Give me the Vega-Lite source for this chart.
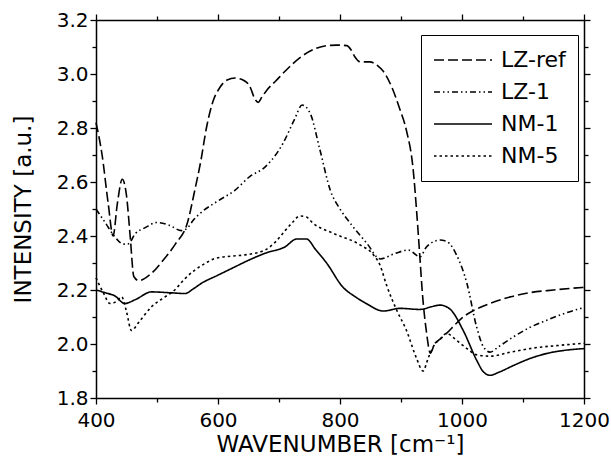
{
  "$schema": "https://vega.github.io/schema/vega-lite/v6.json",
  "autosize": "none",
  "width": 488,
  "height": 378,
  "padding": {"left": 96, "top": 20, "right": 27, "bottom": 59},
  "background": "white",
  "datasets": {
    "spectra": [
      {"s": "LZ-ref", "w": 400, "v": 2.82},
      {"s": "LZ-ref", "w": 410, "v": 2.70},
      {"s": "LZ-ref", "w": 420, "v": 2.52},
      {"s": "LZ-ref", "w": 428, "v": 2.40},
      {"s": "LZ-ref", "w": 435, "v": 2.52},
      {"s": "LZ-ref", "w": 443, "v": 2.61},
      {"s": "LZ-ref", "w": 450, "v": 2.55},
      {"s": "LZ-ref", "w": 456, "v": 2.40},
      {"s": "LZ-ref", "w": 462, "v": 2.25},
      {"s": "LZ-ref", "w": 470, "v": 2.235},
      {"s": "LZ-ref", "w": 490, "v": 2.26},
      {"s": "LZ-ref", "w": 510, "v": 2.31},
      {"s": "LZ-ref", "w": 530, "v": 2.37},
      {"s": "LZ-ref", "w": 550, "v": 2.45},
      {"s": "LZ-ref", "w": 562, "v": 2.57},
      {"s": "LZ-ref", "w": 572, "v": 2.68},
      {"s": "LZ-ref", "w": 581, "v": 2.80},
      {"s": "LZ-ref", "w": 592, "v": 2.90},
      {"s": "LZ-ref", "w": 603, "v": 2.95},
      {"s": "LZ-ref", "w": 615, "v": 2.978},
      {"s": "LZ-ref", "w": 628, "v": 2.985},
      {"s": "LZ-ref", "w": 641, "v": 2.978},
      {"s": "LZ-ref", "w": 652, "v": 2.955},
      {"s": "LZ-ref", "w": 661, "v": 2.905},
      {"s": "LZ-ref", "w": 666, "v": 2.895},
      {"s": "LZ-ref", "w": 672, "v": 2.915},
      {"s": "LZ-ref", "w": 680, "v": 2.94},
      {"s": "LZ-ref", "w": 695, "v": 2.975},
      {"s": "LZ-ref", "w": 712, "v": 3.015},
      {"s": "LZ-ref", "w": 734, "v": 3.06},
      {"s": "LZ-ref", "w": 761, "v": 3.095},
      {"s": "LZ-ref", "w": 778, "v": 3.105},
      {"s": "LZ-ref", "w": 795, "v": 3.107},
      {"s": "LZ-ref", "w": 811, "v": 3.105},
      {"s": "LZ-ref", "w": 818, "v": 3.09},
      {"s": "LZ-ref", "w": 824, "v": 3.065},
      {"s": "LZ-ref", "w": 833, "v": 3.045},
      {"s": "LZ-ref", "w": 849, "v": 3.045},
      {"s": "LZ-ref", "w": 862, "v": 3.03},
      {"s": "LZ-ref", "w": 871, "v": 3.01},
      {"s": "LZ-ref", "w": 887, "v": 2.94},
      {"s": "LZ-ref", "w": 898, "v": 2.87},
      {"s": "LZ-ref", "w": 909, "v": 2.79},
      {"s": "LZ-ref", "w": 920, "v": 2.645},
      {"s": "LZ-ref", "w": 926, "v": 2.48},
      {"s": "LZ-ref", "w": 931, "v": 2.32},
      {"s": "LZ-ref", "w": 935, "v": 2.19},
      {"s": "LZ-ref", "w": 942, "v": 2.04},
      {"s": "LZ-ref", "w": 948, "v": 1.966},
      {"s": "LZ-ref", "w": 955, "v": 2.00},
      {"s": "LZ-ref", "w": 965, "v": 2.02},
      {"s": "LZ-ref", "w": 975, "v": 2.04},
      {"s": "LZ-ref", "w": 990, "v": 2.075},
      {"s": "LZ-ref", "w": 1002, "v": 2.10},
      {"s": "LZ-ref", "w": 1020, "v": 2.125},
      {"s": "LZ-ref", "w": 1046, "v": 2.15},
      {"s": "LZ-ref", "w": 1080, "v": 2.175},
      {"s": "LZ-ref", "w": 1111, "v": 2.19},
      {"s": "LZ-ref", "w": 1150, "v": 2.20},
      {"s": "LZ-ref", "w": 1200, "v": 2.21},

      {"s": "LZ-1", "w": 400, "v": 2.50},
      {"s": "LZ-1", "w": 415, "v": 2.45},
      {"s": "LZ-1", "w": 430, "v": 2.40},
      {"s": "LZ-1", "w": 445, "v": 2.37},
      {"s": "LZ-1", "w": 452, "v": 2.37},
      {"s": "LZ-1", "w": 465, "v": 2.41},
      {"s": "LZ-1", "w": 480, "v": 2.43},
      {"s": "LZ-1", "w": 500, "v": 2.45},
      {"s": "LZ-1", "w": 520, "v": 2.44},
      {"s": "LZ-1", "w": 540, "v": 2.42},
      {"s": "LZ-1", "w": 550, "v": 2.43},
      {"s": "LZ-1", "w": 560, "v": 2.46},
      {"s": "LZ-1", "w": 574, "v": 2.49},
      {"s": "LZ-1", "w": 600, "v": 2.53},
      {"s": "LZ-1", "w": 628, "v": 2.57},
      {"s": "LZ-1", "w": 652, "v": 2.62},
      {"s": "LZ-1", "w": 677, "v": 2.655},
      {"s": "LZ-1", "w": 707, "v": 2.745},
      {"s": "LZ-1", "w": 725, "v": 2.83},
      {"s": "LZ-1", "w": 738, "v": 2.885},
      {"s": "LZ-1", "w": 751, "v": 2.855},
      {"s": "LZ-1", "w": 767, "v": 2.72},
      {"s": "LZ-1", "w": 784, "v": 2.57},
      {"s": "LZ-1", "w": 800, "v": 2.50},
      {"s": "LZ-1", "w": 816, "v": 2.45},
      {"s": "LZ-1", "w": 844, "v": 2.373},
      {"s": "LZ-1", "w": 866, "v": 2.315},
      {"s": "LZ-1", "w": 890, "v": 2.335},
      {"s": "LZ-1", "w": 912, "v": 2.348},
      {"s": "LZ-1", "w": 931, "v": 2.323},
      {"s": "LZ-1", "w": 942, "v": 2.36},
      {"s": "LZ-1", "w": 964, "v": 2.385},
      {"s": "LZ-1", "w": 975, "v": 2.38},
      {"s": "LZ-1", "w": 991, "v": 2.33},
      {"s": "LZ-1", "w": 1008, "v": 2.225},
      {"s": "LZ-1", "w": 1024, "v": 2.063},
      {"s": "LZ-1", "w": 1035, "v": 1.99},
      {"s": "LZ-1", "w": 1046, "v": 1.97},
      {"s": "LZ-1", "w": 1060, "v": 1.99},
      {"s": "LZ-1", "w": 1084, "v": 2.026},
      {"s": "LZ-1", "w": 1110, "v": 2.06},
      {"s": "LZ-1", "w": 1139, "v": 2.088},
      {"s": "LZ-1", "w": 1170, "v": 2.115},
      {"s": "LZ-1", "w": 1200, "v": 2.135},

      {"s": "NM-1", "w": 400, "v": 2.20},
      {"s": "NM-1", "w": 415, "v": 2.19},
      {"s": "NM-1", "w": 431, "v": 2.178},
      {"s": "NM-1", "w": 447, "v": 2.15},
      {"s": "NM-1", "w": 465, "v": 2.165},
      {"s": "NM-1", "w": 491, "v": 2.193},
      {"s": "NM-1", "w": 520, "v": 2.19},
      {"s": "NM-1", "w": 546, "v": 2.187},
      {"s": "NM-1", "w": 560, "v": 2.205},
      {"s": "NM-1", "w": 573, "v": 2.225},
      {"s": "NM-1", "w": 600, "v": 2.255},
      {"s": "NM-1", "w": 628, "v": 2.286},
      {"s": "NM-1", "w": 650, "v": 2.31},
      {"s": "NM-1", "w": 677, "v": 2.336},
      {"s": "NM-1", "w": 710, "v": 2.36},
      {"s": "NM-1", "w": 729, "v": 2.389},
      {"s": "NM-1", "w": 745, "v": 2.389},
      {"s": "NM-1", "w": 760, "v": 2.35},
      {"s": "NM-1", "w": 778, "v": 2.30},
      {"s": "NM-1", "w": 805, "v": 2.21},
      {"s": "NM-1", "w": 825, "v": 2.175},
      {"s": "NM-1", "w": 843, "v": 2.15},
      {"s": "NM-1", "w": 871, "v": 2.122},
      {"s": "NM-1", "w": 898, "v": 2.132},
      {"s": "NM-1", "w": 931, "v": 2.128},
      {"s": "NM-1", "w": 950, "v": 2.138},
      {"s": "NM-1", "w": 964, "v": 2.144},
      {"s": "NM-1", "w": 980, "v": 2.13},
      {"s": "NM-1", "w": 1002, "v": 2.05},
      {"s": "NM-1", "w": 1024, "v": 1.94},
      {"s": "NM-1", "w": 1035, "v": 1.897},
      {"s": "NM-1", "w": 1046, "v": 1.884},
      {"s": "NM-1", "w": 1060, "v": 1.895},
      {"s": "NM-1", "w": 1084, "v": 1.92},
      {"s": "NM-1", "w": 1110, "v": 1.945},
      {"s": "NM-1", "w": 1139, "v": 1.965},
      {"s": "NM-1", "w": 1170, "v": 1.977},
      {"s": "NM-1", "w": 1200, "v": 1.983},

      {"s": "NM-5", "w": 400, "v": 2.245},
      {"s": "NM-5", "w": 412, "v": 2.19},
      {"s": "NM-5", "w": 423, "v": 2.15},
      {"s": "NM-5", "w": 435, "v": 2.16},
      {"s": "NM-5", "w": 442, "v": 2.175},
      {"s": "NM-5", "w": 450, "v": 2.12},
      {"s": "NM-5", "w": 458, "v": 2.05},
      {"s": "NM-5", "w": 470, "v": 2.08},
      {"s": "NM-5", "w": 491, "v": 2.138},
      {"s": "NM-5", "w": 510, "v": 2.17},
      {"s": "NM-5", "w": 529, "v": 2.20},
      {"s": "NM-5", "w": 545, "v": 2.24},
      {"s": "NM-5", "w": 562, "v": 2.274},
      {"s": "NM-5", "w": 580, "v": 2.30},
      {"s": "NM-5", "w": 595, "v": 2.317},
      {"s": "NM-5", "w": 620, "v": 2.325},
      {"s": "NM-5", "w": 644, "v": 2.33},
      {"s": "NM-5", "w": 677, "v": 2.348},
      {"s": "NM-5", "w": 695, "v": 2.38},
      {"s": "NM-5", "w": 710, "v": 2.42},
      {"s": "NM-5", "w": 722, "v": 2.45},
      {"s": "NM-5", "w": 734, "v": 2.474},
      {"s": "NM-5", "w": 745, "v": 2.47},
      {"s": "NM-5", "w": 756, "v": 2.447},
      {"s": "NM-5", "w": 789, "v": 2.41},
      {"s": "NM-5", "w": 833, "v": 2.367},
      {"s": "NM-5", "w": 855, "v": 2.33},
      {"s": "NM-5", "w": 866, "v": 2.29},
      {"s": "NM-5", "w": 876, "v": 2.22},
      {"s": "NM-5", "w": 893, "v": 2.125},
      {"s": "NM-5", "w": 909, "v": 2.05},
      {"s": "NM-5", "w": 925, "v": 1.95},
      {"s": "NM-5", "w": 936, "v": 1.90},
      {"s": "NM-5", "w": 945, "v": 1.95},
      {"s": "NM-5", "w": 953, "v": 1.99},
      {"s": "NM-5", "w": 965, "v": 2.02},
      {"s": "NM-5", "w": 975, "v": 2.04},
      {"s": "NM-5", "w": 985, "v": 2.025},
      {"s": "NM-5", "w": 997, "v": 2.003},
      {"s": "NM-5", "w": 1010, "v": 1.98},
      {"s": "NM-5", "w": 1024, "v": 1.96},
      {"s": "NM-5", "w": 1046, "v": 1.955},
      {"s": "NM-5", "w": 1080, "v": 1.97},
      {"s": "NM-5", "w": 1117, "v": 1.985},
      {"s": "NM-5", "w": 1160, "v": 1.995},
      {"s": "NM-5", "w": 1200, "v": 2.003}
    ]
  },
  "data": {"name": "spectra"},
  "layer": [
    {
      "mark": {"type": "line", "color": "black", "strokeWidth": 1.6, "interpolate": "monotone"},
      "encoding": {
        "x": {
          "field": "w", "type": "quantitative",
          "scale": {"domain": [400, 1200], "nice": false, "zero": false},
          "axis": {
            "orient": "bottom",
            "title": "WAVENUMBER [cm⁻¹]",
            "values": [400, 500, 600, 700, 800, 900, 1000, 1100, 1200],
            "labelExpr": "datum.value % 200 === 0 ? format(datum.value, 'd') : ''",
            "tickSize": {"condition": {"test": "datum.value % 200 === 0", "value": 6}, "value": 4},
            "labelFlush": false,
            "labelOverlap": false,
            "labelPadding": 6,
            "titlePadding": 3
          }
        },
        "y": {
          "field": "v", "type": "quantitative",
          "scale": {"domain": [1.8, 3.2], "nice": false, "zero": false},
          "axis": {
            "orient": "left",
            "title": "INTENSITY [a.u.]",
            "values": [1.8, 1.9, 2.0, 2.1, 2.2, 2.3, 2.4, 2.5, 2.6, 2.7, 2.8, 2.9, 3.0, 3.1, 3.2],
            "labelExpr": "round(datum.value * 10) % 2 === 0 ? format(datum.value, '.1f') : ''",
            "tickSize": {"condition": {"test": "round(datum.value * 10) % 2 === 0", "value": 6}, "value": 4},
            "labelFlush": false,
            "labelOverlap": false,
            "labelPadding": 2,
            "titlePadding": 21
          }
        },
        "strokeDash": {
          "field": "s", "type": "nominal",
          "scale": {
            "domain": ["LZ-ref", "LZ-1", "NM-1", "NM-5"],
            "range": [[10, 4], [6, 3, 1.5, 3, 1.5, 3], [1, 0], [2.5, 3]]
          },
          "legend": {
            "title": null,
            "orient": "none",
            "legendX": 325,
            "legendY": 15,
            "strokeColor": "black",
            "fillColor": "white",
            "padding": 12,
            "symbolType": "stroke",
            "symbolSize": 3364,
            "symbolStrokeWidth": 1.5,
            "symbolStrokeColor": "black",
            "clipHeight": 26,
            "rowPadding": 6,
            "labelOffset": 8,
            "labelFont": "DejaVu Sans",
            "labelFontSize": 22,
            "labelColor": "black"
          }
        }
      }
    },
    {
      "mark": {"type": "line", "opacity": 0, "strokeOpacity": 0},
      "encoding": {
        "detail": {"field": "s"},
        "x": {
          "field": "w", "type": "quantitative",
          "scale": {"domain": [400, 1200], "nice": false, "zero": false},
          "axis": {
            "orient": "top",
            "title": null,
            "values": [400, 500, 600, 700, 800, 900, 1000, 1100, 1200],
            "labels": false,
            "tickSize": {"condition": {"test": "datum.value % 200 === 0", "value": 6}, "value": 4}
          }
        },
        "y": {
          "field": "v", "type": "quantitative",
          "scale": {"domain": [1.8, 3.2], "nice": false, "zero": false},
          "axis": {
            "orient": "right",
            "title": null,
            "values": [1.8, 1.9, 2.0, 2.1, 2.2, 2.3, 2.4, 2.5, 2.6, 2.7, 2.8, 2.9, 3.0, 3.1, 3.2],
            "labels": false,
            "tickSize": {"condition": {"test": "round(datum.value * 10) % 2 === 0", "value": 6}, "value": 4}
          }
        }
      }
    }
  ],
  "resolve": {"axis": {"x": "independent", "y": "independent"}},
  "config": {
    "view": {"stroke": null},
    "font": "DejaVu Sans",
    "axis": {
      "grid": false,
      "domainColor": "black",
      "domainWidth": 1.5,
      "tickColor": "black",
      "tickWidth": 1.3,
      "labelColor": "black",
      "labelFont": "DejaVu Sans",
      "labelFontSize": 20,
      "titleColor": "black",
      "titleFont": "DejaVu Sans",
      "titleFontSize": 23,
      "titleFontWeight": "normal"
    }
  }
}
